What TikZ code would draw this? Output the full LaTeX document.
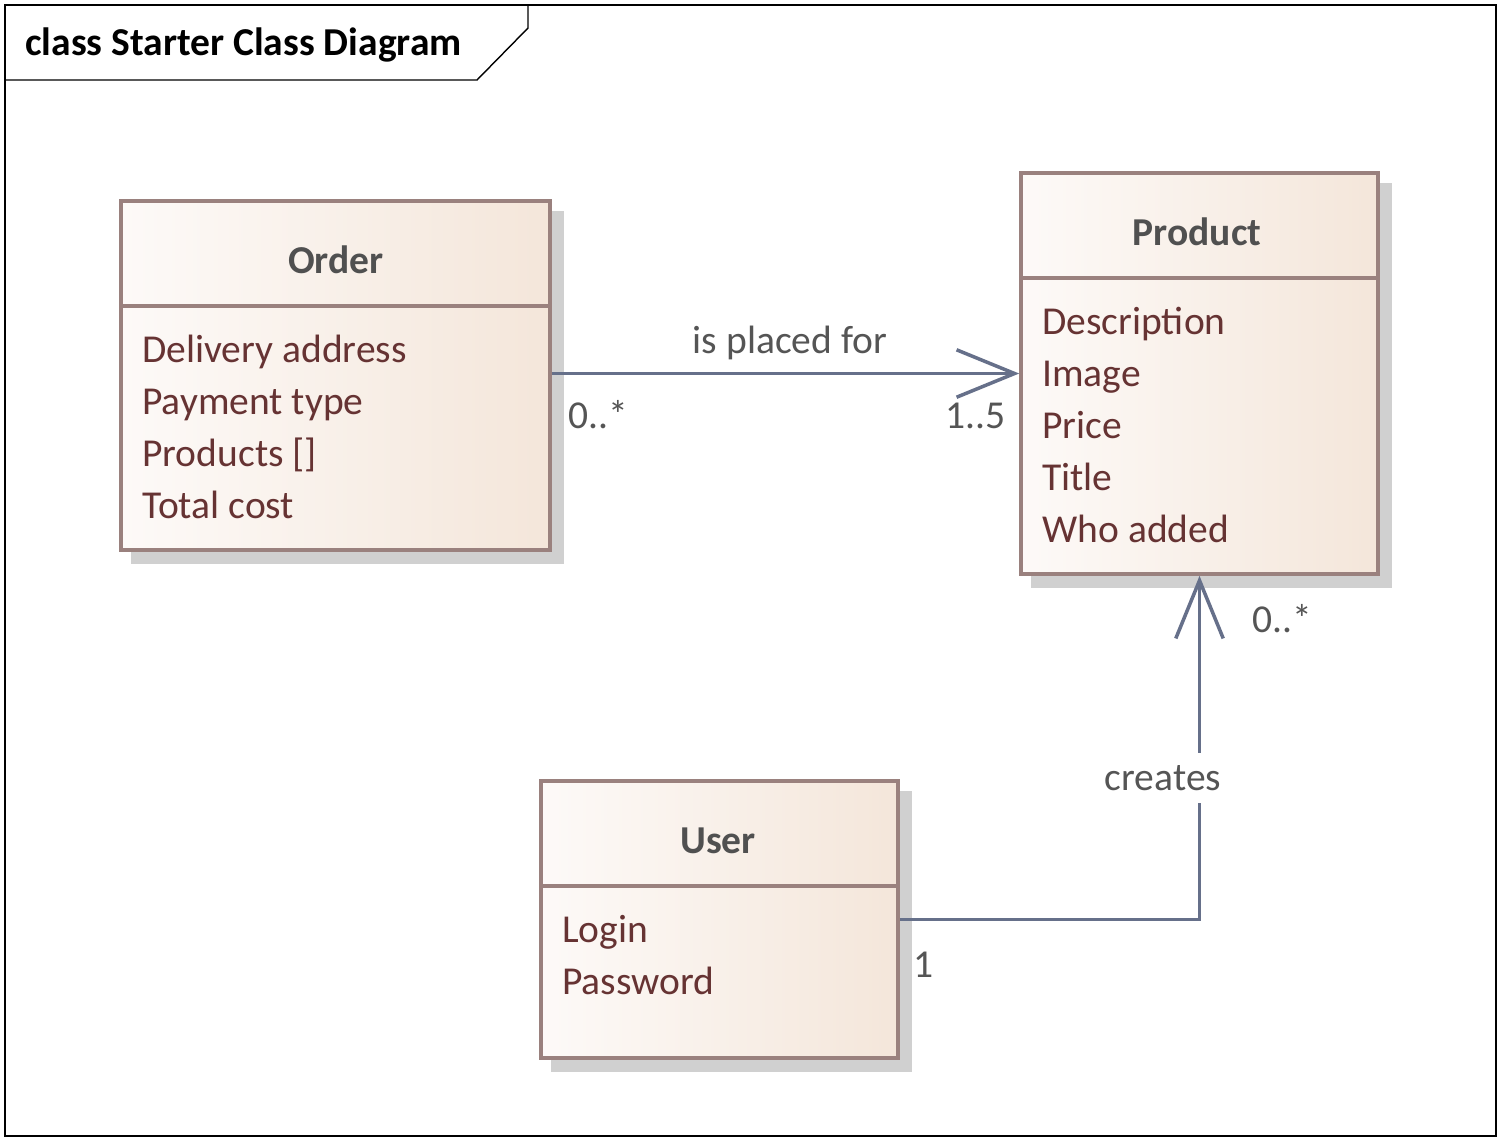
\documentclass[tikz,border=0pt]{standalone}
\usepackage{fontspec}
\setmainfont{Carlito}
\usetikzlibrary{arrows.meta,
	backgrounds,
	calc}

\definecolor{classborder}{HTML}{9A817E}
\definecolor{classleft}{HTML}{FDFAF8}
\definecolor{classright}{HTML}{F4E6DA}
\definecolor{shadowgray}{HTML}{D0D0D0}
\definecolor{headgray}{HTML}{505050}
\definecolor{attrbrown}{HTML}{663333}
\definecolor{labelgray}{HTML}{555555}
\definecolor{linkblue}{HTML}{66708A}
\newcommand{\umlfont}{\fontsize{22.5}{29.5}\selectfont}

\begin{document}
\begin{tikzpicture}[x=0.02cm,y=-0.02cm]
        \tikzstyle{classbox}=[rectangle,draw=classborder,line width=2.1pt,left color=classleft,right color=classright,inner sep=0pt]
        \tikzstyle{classline}=[draw=classborder,line width=2.1pt]
        \tikzstyle{classname}=[font=\umlfont\bfseries,text=headgray,anchor=base]
        \tikzstyle{attr}=[font=\umlfont,text=attrbrown,anchor=base west,inner sep=0pt]
        \tikzstyle{assoc}=[draw=linkblue,line width=2pt,-{Straight Barb[length=33pt,width=27pt]}]
        \tikzstyle{mult}=[font=\umlfont,text=labelgray,inner sep=0pt]
        \useasboundingbox (0,0) rectangle (1500,1140);
        % frame
        \draw[line width=0.8pt] (5,5) rectangle (1496,1136);
        \draw[line width=0.8pt] (5,80) -- (477,80) -- (528,28) -- (528,5);
        \node[anchor=base west,inner sep=0pt,font=\umlfont\bfseries] (frametitle) at (25,55) {class Starter Class Diagram};
        % classes
        \node[classbox,minimum width=8.58cm,minimum height=6.98cm] (order) at (335.5,375.5) {};
        \node[classbox,minimum width=7.14cm,minimum height=8.02cm] (product) at (1199.5,373.5) {};
        \node[classbox,minimum width=7.14cm,minimum height=5.54cm] (user) at (719.5,919.5) {};
        \foreach \c in {order,product,user}
          \draw[classline] ($(\c.north west)+(0,107)$) -- ($(\c.north east)+(0,107)$);
        \node[classname] (order-name) at (336,273) {Order};
        \node[classname] (product-name) at (1197,245) {Product};
        \node[classname] (user-name) at (718,853) {User};
        \foreach \t [count=\i] in {{Delivery address},{Payment type},{Products []},{Total cost}}
          \node[attr] (order-attr-\i) at (142,310+52*\i) {\t};
        \foreach \t [count=\i] in {Description,Image,Price,Title,{Who added}}
          \node[attr] (product-attr-\i) at (1042,282+52*\i) {\t};
        \foreach \t [count=\i] in {Login,Password}
          \node[attr] (user-attr-\i) at (562,890+52*\i) {\t};
        \begin{scope}[on background layer]
          \fill[white] (0,0) rectangle (1500,1140);
          \foreach \c in {order,product,user}
            \fill[shadowgray] ($(\c.south west)+(12,12)$) rectangle ($(\c.north east)+(12,12)$);
        \end{scope}
        % associations
        \draw[assoc] (order.east |- product.west) -- (product.west);
        \node[mult,anchor=base] (placed-label) at (790,353) {is placed for};
        \node[mult,anchor=base west] (order-mult) at (568,428) {0..*};
        \node[mult,anchor=base east] (product-mult) at (1006,428) {1..5};
        \draw[assoc] (user.east) -| (product.south);
        \node[mult,anchor=base,fill=white,inner xsep=2pt,inner ysep=7pt] (creates-label) at (1163,790) {creates};
        \node[mult,anchor=base west] (created-mult) at (1252,632) {0..*};
        \node[mult,anchor=base west] (user-mult) at (913,977) {1};
      \end{tikzpicture}
\end{document}
